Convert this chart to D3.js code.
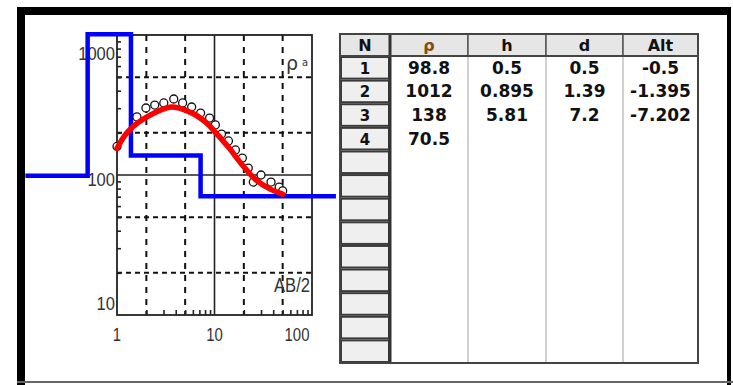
<!DOCTYPE html>
<html><head><meta charset="utf-8">
<script src="https://cdn.jsdelivr.net/npm/d3@7"></script>
<style>
html,body{margin:0;padding:0;background:#fff;}
svg{display:block;}
</style></head>
<body>
<svg id="c" width="733" height="385"></svg>
<script>
// ---- field data (apparent resistivity vs AB/2) ----
const abHalf = [1.0, 1.6, 1.98, 2.44, 3.02, 3.82, 4.71, 5.83, 7.2, 8.9, 10.2, 11.8, 13.9, 16.4, 19.3, 22.2, 25, 30, 38, 46, 50];
const rhoApparent = [160, 260, 301, 316, 327, 349, 327, 306, 277, 255, 228, 196, 175, 151, 132, 112, 89, 100, 89, 82, 77];
// ---- computed (model) curve ----
const modelAB = [1.0, 1.3, 2.07, 3.6, 5.7, 7.0, 8.9, 10, 11.2, 14.2, 19.3, 26.8, 36.5, 50];
const modelRho = [155, 205, 262, 306, 280, 258, 225, 205, 188, 155, 118, 92, 80, 73];
// ---- layered model ----
const layerN = [1, 2, 3, 4];
const layerRho = [98.8, 1012, 138, 70.5];
const layerH = [0.5, 0.895, 5.81];
const layerD = [0.5, 1.39, 7.2];
const layerAlt = [-0.5, -1.395, -7.202];
const modelStart = 0.115, modelEnd = 176;
// ---- axes ----
const xTicks = [1, 10, 100];
const yTicks = [10, 100, 1000];
const xDashed = [2, 5, 20, 50];
const yDashed = [20, 50, 200, 500];
const xMinor = [2,3,4,5,6,7,8,9,20,30,40,50,60,70,80,90];
const yMinor = [20,30,40,50,60,70,80,90,200,300,400,500,600,700,800,900];
const tableHeaders = ["N", "ρ", "h", "d", "Alt"];
const tableRowCount = 13;

const svg = d3.select("#c");

// outer frame
svg.append("rect").attr("x",17).attr("y",7).attr("width",714).attr("height",8).attr("fill","#000");
svg.append("rect").attr("x",17).attr("y",7).attr("width",8).attr("height",378).attr("fill","#000");
svg.append("rect").attr("x",727).attr("y",7).attr("width",4).attr("height",378).attr("fill","#000");
svg.append("rect").attr("x",17).attr("y",381).attr("width",716).attr("height",2).attr("fill","#666");

const x = d3.scaleLog().domain([1,100]).range([117,312]);
const y = d3.scaleLog().domain([10,1000]).range([315,35]);

const g = svg.append("g");

// dashed grid
g.selectAll(".vd").data(xDashed).join("line")
  .attr("x1",d=>x(d)).attr("x2",d=>x(d)).attr("y1",y(1000)).attr("y2",y(10))
  .attr("stroke","#111").attr("stroke-width",2).attr("stroke-dasharray","6,6");
g.selectAll(".hd").data(yDashed).join("line")
  .attr("x1",x(1)).attr("x2",x(100)).attr("y1",d=>y(d)).attr("y2",d=>y(d))
  .attr("stroke","#111").attr("stroke-width",2).attr("stroke-dasharray","5,4");
// solid decade lines
g.append("line").attr("x1",x(10)).attr("x2",x(10)).attr("y1",y(1000)).attr("y2",y(10)).attr("stroke","#222").attr("stroke-width",1.6);
g.append("line").attr("x1",x(1)).attr("x2",x(100)).attr("y1",y(100)).attr("y2",y(100)).attr("stroke","#222").attr("stroke-width",1.6);

// minor ticks
g.append("g").attr("transform",`translate(${x(1)},0)`)
  .call(d3.axisLeft(y).tickValues(yMinor).tickSize(-4).tickFormat(""))
  .call(s=>{s.select(".domain").remove(); s.selectAll("line").attr("stroke","#222").attr("stroke-width",1.6);});
g.append("g").attr("transform",`translate(0,${y(10)})`)
  .call(d3.axisBottom(x).tickValues(xMinor).tickSize(-5).tickFormat(""))
  .call(s=>{s.select(".domain").remove(); s.selectAll("line").attr("stroke","#222").attr("stroke-width",1.6);});

// plot frame
g.append("rect").attr("x",x(1)).attr("y",y(1000)).attr("width",x(100)-x(1)).attr("height",y(10)-y(1000))
  .attr("fill","none").attr("stroke","#222").attr("stroke-width",1.8);

// tick labels
const lblFont = "'Liberation Sans Narrow','Liberation Sans',Arial,sans-serif";
const yLblOffset = {10:-5, 100:11, 1000:25};
g.selectAll(".yl").data(yTicks).join("text")
  .attr("x",x(1)-2).attr("y",d=>y(d)+yLblOffset[d])
  .attr("text-anchor","end").attr("font-family",lblFont).attr("font-size",19)
  .attr("fill","#333").attr("textLength",d=>String(d).length*9.2).attr("lengthAdjust","spacingAndGlyphs")
  .text(d=>d);
g.selectAll(".xl").data(xTicks).join("text")
  .attr("x",d=> d===100 ? x(d)-15 : x(d)).attr("y",y(10)+26)
  .attr("text-anchor","middle").attr("font-family",lblFont).attr("font-size",19)
  .attr("fill","#333").attr("textLength",d=>String(d).length*8.3).attr("lengthAdjust","spacingAndGlyphs")
  .text(d=>d);

// axis titles
const rt = g.append("text").attr("x",286).attr("y",70).attr("font-family","'DejaVu Sans',sans-serif").attr("fill","#333");
rt.append("tspan").attr("font-size",19).text("ρ");
rt.append("tspan").attr("font-size",10).attr("dx",4).attr("dy",-4).text("a");
g.append("text").attr("x",310).attr("y",292).attr("text-anchor","end").attr("font-family",lblFont)
  .attr("font-size",20).attr("fill","#333").attr("textLength",36).attr("lengthAdjust","spacingAndGlyphs").text("AB/2");

// blue layered model
const stepPts = [[modelStart, layerRho[0]]]
  .concat(layerD.map((d,i)=>[d, layerRho[i+1]]))
  .concat([[modelEnd, layerRho[layerRho.length-1]]]);
g.append("path").datum(stepPts)
  .attr("d", d3.line().x(d=>x(d[0])).y(d=>y(d[1])).curve(d3.curveStepAfter))
  .attr("fill","none").attr("stroke","#0000ff").attr("stroke-width",4.5);

// field points
g.selectAll(".pt").data(abHalf.map((a,i)=>[a, rhoApparent[i]])).join("circle")
  .attr("cx",d=>x(d[0])).attr("cy",d=>y(d[1])).attr("r",4)
  .attr("fill","#fff").attr("stroke","#111").attr("stroke-width",1.3);

// red computed curve
g.append("path").datum(modelAB.map((a,i)=>[a, modelRho[i]]))
  .attr("d", d3.line().x(d=>x(d[0])).y(d=>y(d[1])).curve(d3.curveCatmullRom))
  .attr("fill","none").attr("stroke","#ff0000").attr("stroke-width",5.5).attr("stroke-linecap","round");

// ---- table ----
const colEdges = [340, 390, 468, 546, 623, 698];
const headTop = 34, headBot = 56, tableBot = 363;
const rowH = (tableBot - headBot) / tableRowCount;
const t = svg.append("g");
const tableFont = "'DejaVu Sans',Verdana,sans-serif";

t.append("rect").attr("x",colEdges[1]).attr("y",headBot).attr("width",colEdges[5]-colEdges[1]).attr("height",tableBot-headBot).attr("fill","#fff");
t.selectAll(".sep").data(colEdges.slice(2,5)).join("line")
  .attr("x1",d=>d).attr("x2",d=>d).attr("y1",headBot).attr("y2",tableBot)
  .attr("stroke","#d0d0d0").attr("stroke-width",2);
t.selectAll(".hc").data(tableHeaders).join("rect")
  .attr("x",(d,i)=>colEdges[i]).attr("y",headTop).attr("width",(d,i)=>colEdges[i+1]-colEdges[i]).attr("height",headBot-headTop)
  .attr("fill","#e6e6e6").attr("stroke","#555").attr("stroke-width",1.5);
t.selectAll(".ht").data(tableHeaders).join("text")
  .attr("x",(d,i)=>(colEdges[i]+colEdges[i+1])/2).attr("y",(headTop+headBot)/2+6)
  .attr("text-anchor","middle").attr("font-family",tableFont).attr("font-weight","bold").attr("font-size",16)
  .attr("fill",d=>d==="ρ" ? "#8a4b12" : "#111").text(d=>d);
const rows = d3.range(tableRowCount);
t.selectAll(".nc").data(rows).join("rect")
  .attr("x",colEdges[0]+1).attr("y",d=>headBot+d*rowH+1).attr("width",colEdges[1]-colEdges[0]-2).attr("height",rowH-2)
  .attr("fill","#efefef").attr("stroke","#3a3a3a").attr("stroke-width",2);
t.append("line").attr("x1",colEdges[1]).attr("x2",colEdges[1]).attr("y1",headTop).attr("y2",tableBot)
  .attr("stroke","#333").attr("stroke-width",3);
t.append("rect").attr("x",colEdges[0]).attr("y",headTop).attr("width",colEdges[5]-colEdges[0]).attr("height",tableBot-headTop)
  .attr("fill","none").attr("stroke","#444").attr("stroke-width",2);
t.append("line").attr("x1",colEdges[0]).attr("x2",colEdges[5]).attr("y1",headBot).attr("y2",headBot).attr("stroke","#444").attr("stroke-width",2);

const cols = [layerN, layerRho, layerH, layerD, layerAlt];
cols.forEach((arr,ci)=>{
  t.selectAll(".c"+ci).data(arr).join("text")
    .attr("x",(colEdges[ci]+colEdges[ci+1])/2).attr("y",(d,i)=>headBot+i*rowH+rowH/2+6)
    .attr("text-anchor","middle").attr("font-family",tableFont).attr("font-weight","bold")
    .attr("font-size",ci===0?15:17).attr("fill","#111").text(d=>String(d));
});
</script>
</body></html>
